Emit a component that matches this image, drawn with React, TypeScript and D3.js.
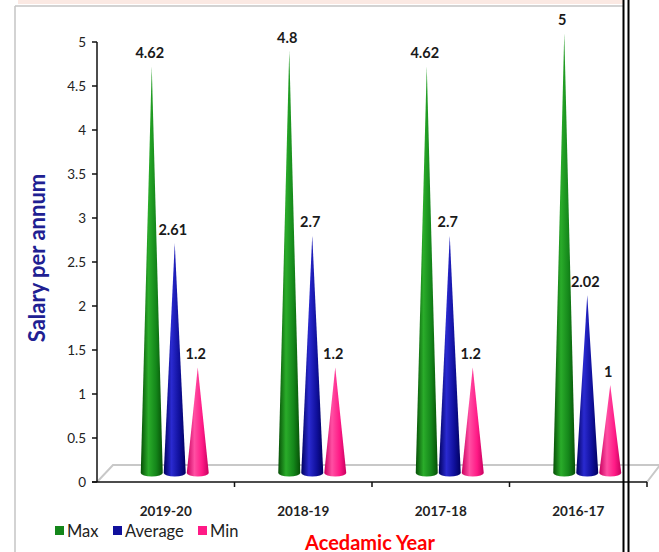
import React from 'react';
import * as d3 from 'd3';

const categories = ['2019-20', '2018-19', '2017-18', '2016-17'];
const maxValues = [4.62, 4.8, 4.62, 5];
const avgValues = [2.61, 2.7, 2.7, 2.02];
const minValues = [1.2, 1.2, 1.2, 1];
const seriesNames = ['Max', 'Average', 'Min'];
const yTicks = [0, 0.5, 1, 1.5, 2, 2.5, 3, 3.5, 4, 4.5, 5];

const W = 659;
const H = 552;
const left = 97;
const right = 647;
const bottom = 482;
const top = 42;
const depth = 16;
const FONT = 'Lato, "Open Sans", sans-serif';

const seriesColors = [
  { dark: '#064f06', light: '#2aac2a', mid: '#14861a' },
  { dark: '#00005e', light: '#2a2ad0', mid: '#10109c' },
  { dark: '#c8005e', light: '#ff4fa3', mid: '#ff1a86' },
];

export default function App() {
  const x = d3.scaleBand<string>().domain(categories).range([left, right]).padding(0);
  const y = d3.scaleLinear().domain([0, 5]).range([bottom, top]);
  const series = [maxValues, avgValues, minValues];
  const coneW = 22;
  const coneGap = 23;
  const half = depth / 2;
  const ry = 3.5;

  const cones: JSX.Element[] = [];
  const labels: JSX.Element[] = [];
  categories.forEach((c, ci) => {
    const center = (x(c) as number) + x.bandwidth() / 2 + half + 1;
    series.forEach((vals, si) => {
      const v = vals[ci];
      const cx = center + (si - 1) * coneGap;
      const baseY = bottom - half - 1;
      const tipY = y(v) - half - 1;
      const d = `M${cx - coneW / 2},${baseY} L${cx},${tipY} L${cx + coneW / 2},${baseY} A${coneW / 2},${ry} 0 0 1 ${cx - coneW / 2},${baseY} Z`;
      cones.push(<path key={`c${ci}-${si}`} d={d} fill={`url(#g${si})`} />);
      labels.push(
        <text key={`l${ci}-${si}`} x={cx - 2} y={tipY - 8} textAnchor="middle" fontFamily={FONT} fontWeight="bold" fontSize={14.5} fill="#1a1a1a">
          {String(v)}
        </text>
      );
    });
  });

  const boundaries = [...categories.map((c) => x(c) as number), right];

  const legendX = [55, 113, 198];
  const legendTextX = [67, 125, 210];

  return (
    <svg width={W} height={H} style={{ position: 'absolute', left: 0, top: 0, background: '#fff' }}>
      <defs>
        {seriesColors.map((sc, i) => (
          <linearGradient key={i} id={`g${i}`} x1="0" x2="1" y1="0" y2="0">
            <stop offset="0%" stopColor={sc.dark} />
            <stop offset="35%" stopColor={sc.light} />
            <stop offset="70%" stopColor={sc.mid} />
            <stop offset="100%" stopColor={sc.dark} />
          </linearGradient>
        ))}
      </defs>
      {/* top strip */}
      <rect x={18} y={0} width={605} height={4} fill="#fbe9e3" />
      <line x1={15} y1={6} x2={623} y2={6} stroke="#c4c4c4" strokeWidth={1.5} />
      <line x1={15} y1={6} x2={15} y2={H} stroke="#c4c4c4" strokeWidth={1.5} />

      {/* floor */}
      <path
        d={`M${left},${bottom} L${left + depth},${bottom - depth - 1} L${right + 13},${bottom - depth - 1} L${right},${bottom}`}
        fill="none"
        stroke="#c8c8c8"
        strokeWidth={2}
      />

      {/* y axis */}
      <line x1={left} y1={top} x2={left} y2={bottom} stroke="#111" strokeWidth={1.5} />
      {yTicks.map((t) => (
        <g key={t}>
          <line x1={left - 5} y1={y(t)} x2={left} y2={y(t)} stroke="#111" strokeWidth={1.5} />
          <text x={left - 11} y={y(t)} dy="0.35em" textAnchor="end" fontFamily={FONT} fontSize={13.5} fill="#222">
            {String(t)}
          </text>
        </g>
      ))}

      {/* x axis */}
      <line x1={left - 5} y1={bottom} x2={right} y2={bottom} stroke="#111" strokeWidth={1.5} />
      {boundaries.slice(1).map((b, i) => (
        <line key={i} x1={b} y1={bottom} x2={b} y2={bottom + 5} stroke="#111" strokeWidth={1.5} />
      ))}
      {categories.map((c) => (
        <text key={c} x={(x(c) as number) + x.bandwidth() / 2} y={516} textAnchor="middle" fontFamily={FONT} fontWeight="bold" fontSize={13.5} fill="#222">
          {c}
        </text>
      ))}

      {cones}
      {labels}

      {/* axis titles */}
      <text transform="translate(45,258) rotate(-90)" textAnchor="middle" fontFamily={FONT} fontWeight="bold" fontSize={22} fill="#202092">
        Salary per annum
      </text>
      <text x={370} y={550} textAnchor="middle" fontFamily={FONT} fontWeight="bold" fontSize={20} fill="#ff0000">
        Acedamic Year
      </text>

      {/* legend */}
      {seriesNames.map((n, i) => (
        <g key={n}>
          <rect x={legendX[i]} y={526} width={9} height={9} fill={seriesColors[i].mid} />
          <text x={legendTextX[i]} y={537} fontFamily={FONT} fontSize={16.5} fill="#222">
            {n}
          </text>
        </g>
      ))}

      {/* double vertical line */}
      <line x1={623.5} y1={0} x2={623.5} y2={H} stroke="#000" strokeWidth={2} />
      <line x1={628.5} y1={0} x2={628.5} y2={H} stroke="#000" strokeWidth={2} />
    </svg>
  );
}
